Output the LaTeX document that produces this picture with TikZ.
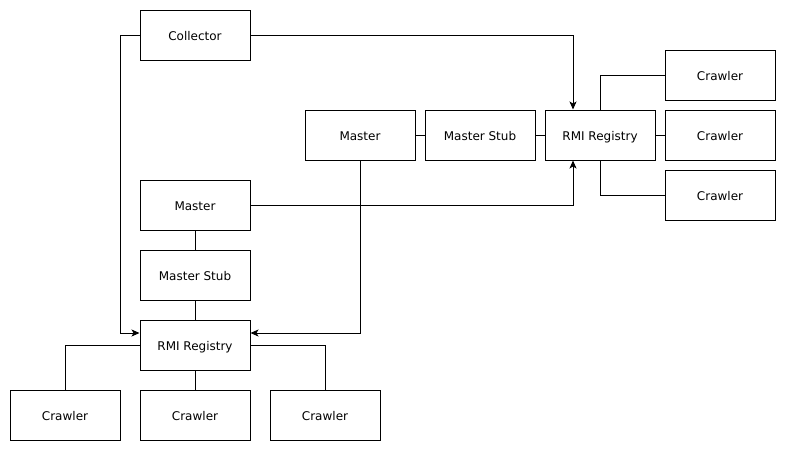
\documentclass[tikz,border=0pt]{standalone}
\usepackage{fontspec}
\setmainfont{DejaVu Sans}
\usetikzlibrary{arrows.meta}
\begin{document}
\begin{tikzpicture}[x=1pt,y=-1pt,
  box/.style={draw,line width=1pt,minimum width=110pt,minimum height=50pt,inner sep=0pt,text height=11.4pt,text depth=0pt,font=\fontsize{12}{14}\selectfont},
  conn/.style={draw,line width=1pt},
  arr/.style={conn,-{Stealth[length=8pt,width=7pt,inset=2pt]}}]
\useasboundingbox (0,0) rectangle (786,451);
\node[box] (col) at (195,35) {Collector};
\node[box] (m1) at (360,135) {Master};
\node[box] (ms1) at (480,135) {Master Stub};
\node[box] (r1) at (600,135) {RMI Registry};
\node[box] (c1) at (720,75) {Crawler};
\node[box] (c2) at (720,135) {Crawler};
\node[box] (c3) at (720,195) {Crawler};
\node[box] (m2) at (195,205) {Master};
\node[box] (ms2) at (195,275) {Master Stub};
\node[box] (r2) at (195,345) {RMI Registry};
\node[box] (c4) at (65,415) {Crawler};
\node[box] (c5) at (195,415) {Crawler};
\node[box] (c6) at (325,415) {Crawler};
% arrow ends
\coordinate (r2wl) at ([yshift=12pt]r2.west);
\coordinate (r2el) at ([yshift=12pt]r2.east);
\coordinate (r1nl) at ([xshift=-27pt]r1.north);
\coordinate (r1sl) at ([xshift=-27pt]r1.south);
% arrows
\draw[arr] (col.west) -- (120,35) |- (r2wl);
\draw[arr] (col.east) -| (r1nl);
\draw[arr] (m1.south) |- (r2el);
\draw[arr] (m2.east) -| (r1sl);
% lines
\draw[conn] (m1) -- (ms1);
\draw[conn] (ms1) -- (r1);
\draw[conn] (r1.north) |- (c1.west);
\draw[conn] (r1) -- (c2);
\draw[conn] (r1.south) |- (c3.west);
\draw[conn] (m2) -- (ms2);
\draw[conn] (ms2) -- (r2);
\draw[conn] (r2.west) -| (c4.north);
\draw[conn] (r2) -- (c5);
\draw[conn] (r2.east) -| (c6.north);
\end{tikzpicture}
\end{document}
